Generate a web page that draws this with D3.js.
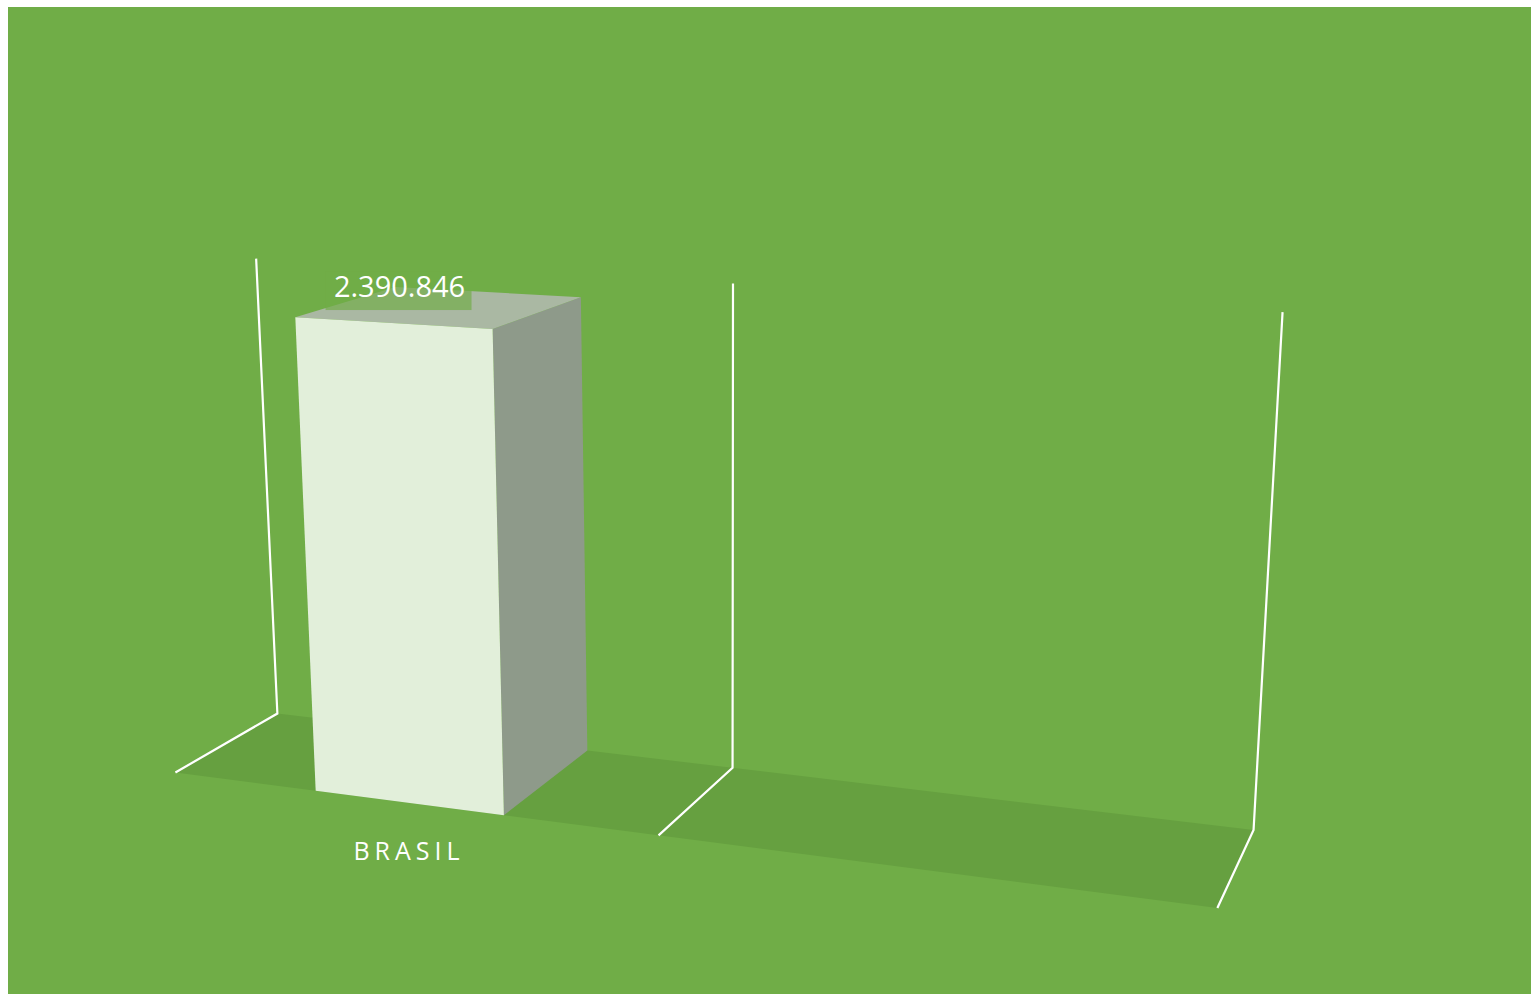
<!DOCTYPE html>
<html>
<head>
<meta charset="utf-8">
<script src="https://cdn.jsdelivr.net/npm/d3@7"></script>
<style>
  html, body { margin: 0; padding: 0; background: #ffffff; }
  svg { display: block; }
</style>
</head>
<body>
<script>
// ---------- DATA ----------
const categories = ["BRASIL", ""];
const values = [2390846, null];
const axisMin = 0;
const axisMax = 2500000;

// ---------- LAYOUT ----------
const W = 1531, H = 994;
const colors = {
  bg: "#70AD47", floor: "#66A040", grid: "#FFFFFF",
  front: "#E2EFDA", side: "#8E9A8A", top: "#AAB8A3",
  labelBox: "rgba(112,173,71,0.68)", text: "#FFFFFF"
};
// Screen positions of the 3D frame's reference corners (world X: category units, Y: 0..1 of axis, Z: 0 front .. 1 back)
const frameCalib = [
  { w: [0, 0, 1], s: [277.3, 713.3] },
  { w: [1, 0, 1], s: [732.7, 768.3] },
  { w: [2, 0, 1], s: [1253.5, 829.8] },
  { w: [0, 0, 0], s: [175.5, 772.5] },
  { w: [1, 0, 0], s: [658.3, 835.6] },
  { w: [2, 0, 0], s: [1217.5, 907.7] },
  { w: [0, 1, 1], s: [256.3, 258.5] },
  { w: [1, 1, 1], s: [732.7, 283.5] },
  { w: [2, 1, 1], s: [1282.7, 312.3] }
];

// ---------- PROJECTION (fit a 3x4 camera matrix by least squares) ----------
function fitCamera(pts) {
  const cx = 700, cy = 600, sc = 500;
  const rows = [], rhs = [];
  pts.forEach(p => {
    const [X, Y, Z] = p.w;
    const x = (p.s[0] - cx) / sc, y = (p.s[1] - cy) / sc;
    rows.push([X, Y, Z, 1, 0, 0, 0, 0, -x * X, -x * Y, -x * Z]); rhs.push(x);
    rows.push([0, 0, 0, 0, X, Y, Z, 1, -y * X, -y * Y, -y * Z]); rhs.push(y);
  });
  const n = 11;
  const A = Array.from({ length: n }, () => new Array(n + 1).fill(0));
  rows.forEach((r, k) => {
    for (let i = 0; i < n; i++) {
      for (let j = 0; j < n; j++) A[i][j] += r[i] * r[j];
      A[i][n] += r[i] * rhs[k];
    }
  });
  for (let c = 0; c < n; c++) {
    let piv = c;
    for (let r = c + 1; r < n; r++) if (Math.abs(A[r][c]) > Math.abs(A[piv][c])) piv = r;
    [A[c], A[piv]] = [A[piv], A[c]];
    for (let r = 0; r < n; r++) {
      if (r === c) continue;
      const f = A[r][c] / A[c][c];
      for (let k = c; k <= n; k++) A[r][k] -= f * A[c][k];
    }
  }
  const m = A.map((row, i) => row[n] / row[i]);
  return function (X, Y, Z) {
    const wq = m[8] * X + m[9] * Y + m[10] * Z + 1;
    const x = (m[0] * X + m[1] * Y + m[2] * Z + m[3]) / wq;
    const y = (m[4] * X + m[5] * Y + m[6] * Z + m[7]) / wq;
    return [x * sc + cx, y * sc + cy];
  };
}
const project = fitCamera(frameCalib);

// ---------- SCALES ----------
const xScale = d3.scaleBand()
  .domain(d3.range(categories.length))
  .range([0, categories.length])
  .paddingInner(0.61)
  .paddingOuter(0.305);
const yScale = d3.scaleLinear().domain([axisMin, axisMax]).range([0, 1]);
const fmt = d3.formatLocale({ decimal: ",", thousands: ".", grouping: [3], currency: ["R$", ""] }).format(",d");

const line = d3.line();
const poly = pts => line(pts.map(p => project(p[0], p[1], p[2]))) + "Z";

// ---------- DRAW ----------
const svg = d3.select("body").append("svg").attr("width", W).attr("height", H);
svg.append("rect").attr("x", 8).attr("y", 7).attr("width", W - 8).attr("height", H - 7).attr("fill", colors.bg);

const nCat = categories.length;
// floor
svg.append("path")
  .attr("d", poly([[0, 0, 1], [nCat, 0, 1], [nCat, 0, 0], [0, 0, 0]]))
  .attr("fill", colors.floor);

// category gridlines (back wall vertical + floor depth line)
svg.append("g").selectAll("path")
  .data(d3.range(nCat + 1))
  .join("path")
  .attr("d", i => line([project(i, yScale(axisMax), 1), project(i, 0, 1), project(i, 0, 0)]))
  .attr("fill", "none")
  .attr("stroke", colors.grid)
  .attr("stroke-width", 2.2)
  .attr("stroke-linejoin", "miter");

// bars
const barData = values.map((v, i) => ({ i, v })).filter(d => d.v != null);
const bars = svg.append("g").selectAll("g").data(barData).join("g");
bars.each(function (d) {
  const g = d3.select(this);
  const x0 = xScale(d.i), x1 = x0 + xScale.bandwidth(), h = yScale(d.v);
  g.append("path").attr("d", poly([[x1, 0, 0], [x1, 0, 1], [x1, h, 1], [x1, h, 0]])).attr("fill", colors.side);
  g.append("path").attr("d", poly([[x0, h, 0], [x1, h, 0], [x1, h, 1], [x0, h, 1]])).attr("fill", colors.top);
  g.append("path").attr("d", poly([[x0, 0, 0], [x1, 0, 0], [x1, h, 0], [x0, h, 0]])).attr("fill", colors.front);

  // data label
  const [lx, ly] = project((x0 + x1) / 2, h, 0);
  const cx = lx + 6, base = ly - 26;
  g.append("rect")
    .attr("x", cx - 73).attr("y", base - 26).attr("width", 146).attr("height", 39)
    .attr("fill", colors.labelBox);
  g.append("text")
    .attr("x", cx + 1).attr("y", base)
    .attr("text-anchor", "middle")
    .attr("font-family", "'Open Sans', sans-serif")
    .attr("font-size", 29)
    .attr("fill", colors.text)
    .text(fmt(d.v));
});

// category labels
svg.append("g").selectAll("text")
  .data(categories.map((c, i) => ({ c, i })).filter(d => d.c))
  .join("text")
  .attr("x", d => project(xScale(d.i) + xScale.bandwidth() / 2, 0, 0)[0] - 2)
  .attr("y", d => project(xScale(d.i) + xScale.bandwidth() / 2, 0, 0)[1] + 57)
  .attr("dx", 2.5)
  .attr("text-anchor", "middle")
  .attr("font-family", "'Open Sans', sans-serif")
  .attr("font-size", 25)
  .attr("letter-spacing", 5)
  .attr("fill", colors.text)
  .text(d => d.c);
</script>
</body>
</html>
